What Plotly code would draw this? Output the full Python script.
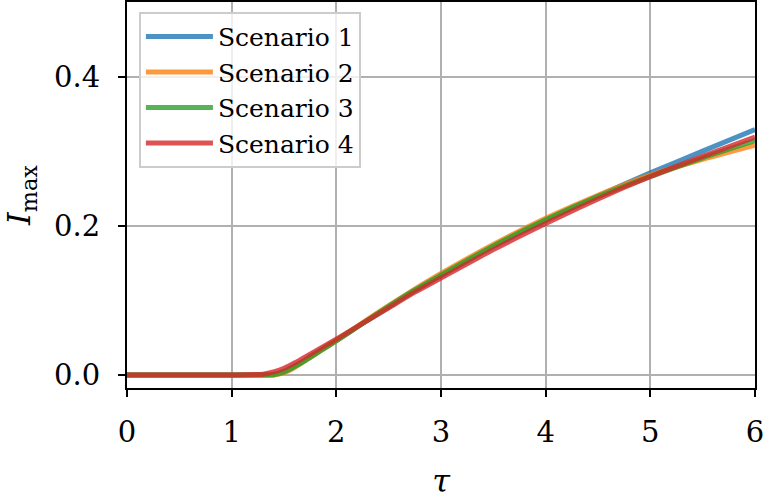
import plotly.graph_objects as go

tau = [0, 1.0, 1.3, 1.4, 1.5, 1.6, 1.7, 1.8, 1.9, 2.0, 2.25, 2.5, 2.75, 3.0, 3.5, 4.0, 4.5, 5.0, 5.5, 6.0]
scenario1 = [0, 0, 0, 0.001, 0.005, 0.012, 0.020, 0.029, 0.038, 0.046, 0.069, 0.091, 0.113, 0.133, 0.172, 0.207, 0.240, 0.271, 0.300, 0.329]
scenario2 = [0, 0, 0, 0, 0.003, 0.010, 0.019, 0.028, 0.037, 0.046, 0.070, 0.093, 0.115, 0.136, 0.175, 0.210, 0.241, 0.268, 0.289, 0.308]
scenario3 = [0, 0, 0, 0, 0.004, 0.011, 0.019, 0.028, 0.037, 0.046, 0.069, 0.092, 0.114, 0.134, 0.173, 0.208, 0.239, 0.266, 0.291, 0.314]
scenario4 = [0, 0, 0.001, 0.004, 0.009, 0.016, 0.024, 0.032, 0.040, 0.048, 0.069, 0.090, 0.111, 0.130, 0.168, 0.203, 0.236, 0.266, 0.293, 0.319]

names = ["Scenario 1", "Scenario 2", "Scenario 3", "Scenario 4"]
series = [scenario1, scenario2, scenario3, scenario4]
colors = ["rgba(31,119,180,0.8)", "rgba(255,127,14,0.8)", "rgba(44,160,44,0.8)", "rgba(214,39,40,0.8)"]

x_ticks = [0, 1, 2, 3, 4, 5, 6]
y_ticks = [0.0, 0.2, 0.4]
y_tick_labels = ["0.0", "0.2", "0.4"]

FONT = "DejaVu Serif"

fig = go.Figure()
for n, s, c in zip(names, series, colors):
    fig.add_trace(go.Scatter(x=tau, y=s, name=n, mode="lines",
                             line=dict(color=c, width=5, shape="spline", smoothing=0.6)))

axis_common = dict(
    showline=True, linecolor="black", linewidth=2, mirror=True,
    ticks="outside", ticklen=7, tickwidth=2, tickcolor="black",
    showgrid=True, gridcolor="#b0b0b0", gridwidth=2,
    zeroline=False, automargin=False,
    tickfont=dict(family=FONT, size=29, color="black"),
)

fig.update_xaxes(range=[0, 6], tickvals=x_ticks, ticktext=[str(v) for v in x_ticks],
                 ticklabelstandoff=10,
                 title=dict(text="<i>τ</i>", font=dict(family=FONT, size=32, color="black"), standoff=24),
                 **axis_common)
fig.update_yaxes(range=[-0.0175, 0.5], tickvals=y_ticks, ticktext=y_tick_labels,
                 ticklabelstandoff=12,
                 title=dict(text="<i>I</i><sub>max</sub>", font=dict(family=FONT, size=32, color="black"), standoff=14),
                 **axis_common)

fig.update_layout(
    width=766, height=500,
    margin=dict(l=127, r=11, t=2, b=112),
    plot_bgcolor="white", paper_bgcolor="white",
    legend=dict(x=0.019, y=0.975, xanchor="left", yanchor="top",
                bgcolor="rgba(255,255,255,0.8)", bordercolor="#cccccc", borderwidth=2,
                itemwidth=67,
                font=dict(family=FONT, size=25, color="black")),
    showlegend=True,
)

fig.write_html("out.html", config={"displayModeBar": False},
               post_script="document.body.style.margin='0';")
